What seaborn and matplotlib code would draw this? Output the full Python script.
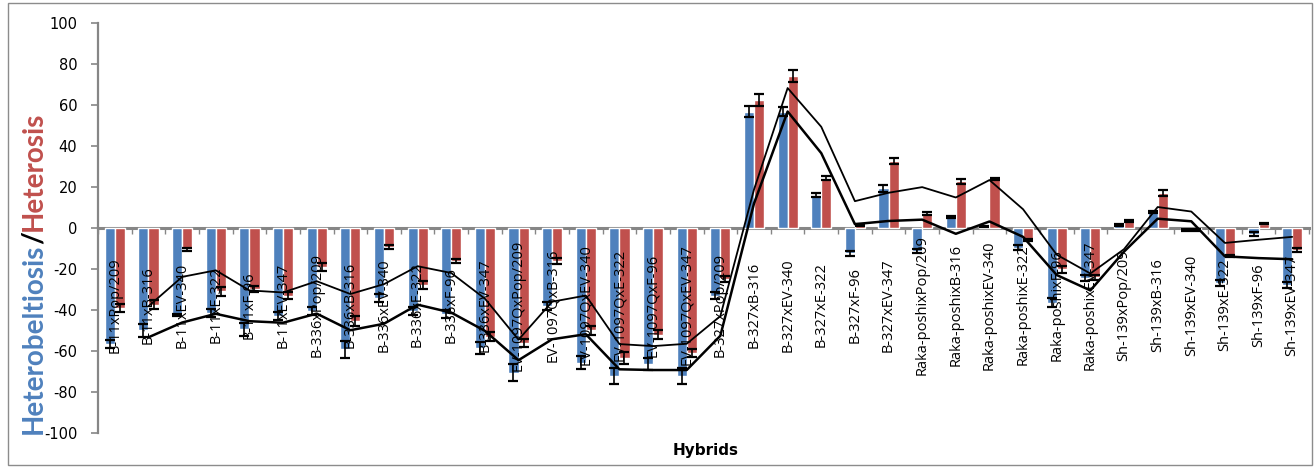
import numpy as np
import pandas as pd
import matplotlib
matplotlib.use("Agg")
import matplotlib.pyplot as plt
import seaborn as sns
from matplotlib.patches import Rectangle

# ---------------- data ----------------
categories = [
    "B-11xPop/209", "B-11xB-316", "B-11xEV-340", "B-11xE-322", "B-11xF-96", "B-11xEV-347",
    "B-336xPop/209", "B-336xB-316", "B-336xEV-340", "B-336xE-322", "B-336xF-96", "B-336xEV-347",
    "EV-1097QxPop/209", "EV-1097QxB-316", "EV-1097QxEV-340", "EV-1097QxE-322", "EV-1097QxF-96", "EV-1097QxEV-347",
    "B-327xPop/209", "B-327xB-316", "B-327xEV-340", "B-327xE-322", "B-327xF-96", "B-327xEV-347",
    "Raka-poshixPop/209", "Raka-poshixB-316", "Raka-poshixEV-340", "Raka-poshixE-322", "Raka-poshixF-96", "Raka-poshixEV-347",
    "Sh-139xPop/209", "Sh-139xB-316", "Sh-139xEV-340", "Sh-139xE-322", "Sh-139xF-96", "Sh-139xEV-347",
]
heterobeltiosis = [
    -56.7, -50.0, -42.3, -41.5, -49.5, -43.0,
    -40.6, -59.2, -34.3, -40.6, -42.0, -58.4,
    -70.6, -38.0, -65.7, -72.2, -66.4, -72.2,
    -33.0, 56.7, 56.7, 16.1, -12.5, 19.2,
    -11.2, 5.4, 0.8, -9.6, -36.4, -24.6,
    1.4, 7.5, -1.1, -26.7, -2.8, -27.8,
]
heterosis = [
    -39.0, -37.4, -10.4, -31.0, -30.0, -33.0,
    -19.0, -45.5, -9.4, -28.0, -16.0, -53.0,
    -56.0, -16.0, -50.0, -63.3, -52.0, -61.0,
    -25.0, 62.3, 74.0, 24.5, 1.5, 32.7,
    7.0, 22.6, 24.0, -5.9, -20.3, -24.2,
    3.4, 16.9, -1.0, -13.7, 2.1, -10.9,
]
heterobeltiosis_err = [
    2.0, 3.0, 0.5, 2.0, 3.0, 2.0,
    2.0, 4.0, 2.0, 2.0, 2.0, 3.0,
    4.0, 2.0, 3.0, 4.0, 3.0, 4.0,
    1.5, 2.5, 2.0, 1.0, 1.0, 1.5,
    1.0, 0.5, 0.3, 1.0, 2.0, 1.5,
    0.5, 0.5, 0.5, 1.5, 1.0, 1.5,
]
heterosis_err = [
    2.0, 2.0, 0.8, 2.0, 1.5, 1.5,
    2.0, 2.5, 0.8, 2.0, 1.0, 2.0,
    2.0, 1.5, 2.0, 3.0, 2.0, 2.0,
    1.5, 3.0, 3.0, 1.0, 0.5, 1.5,
    0.5, 1.0, 0.5, 0.5, 1.5, 1.0,
    0.5, 1.5, 0.3, 0.5, 0.3, 1.0,
]
series_names = ["Heterobeltiosis", "Heterosis"]
y_ticks = list(range(-100, 101, 20))
TREND_PERIOD = 2  # Excel moving-average trendline period

# ---------------- style ----------------
BLUE = "#4F81BD"
RED = "#C0504D"
GRAY = "#868686"
LABEL_Y = -37.6

sns.set_theme(style="white")
plt.rcParams['font.family'] = ['DejaVu Sans']

fig = plt.figure(figsize=(13.16, 4.67), dpi=100)
ax = fig.add_axes([0.0745, 0.0728, 0.9202, 0.8786])

n = len(categories)
df = pd.DataFrame({
    "Hybrid": categories * 2,
    "Series": [series_names[0]] * n + [series_names[1]] * n,
    "Value": heterobeltiosis + heterosis,
})
sns.barplot(data=df, x="Hybrid", y="Value", hue="Series", order=categories,
            hue_order=series_names, palette=[BLUE, RED], width=0.6,
            errorbar=None, saturation=1, legend=False, ax=ax, zorder=2)

for cont, err in zip(ax.containers, [heterobeltiosis_err, heterosis_err]):
    xs = [p.get_x() + p.get_width() / 2 for p in cont]
    ax.errorbar(xs, cont.datavalues, yerr=err, fmt='none', ecolor='black',
                elinewidth=1.2, capsize=3.6, capthick=1.6, zorder=4)

# moving-average trendlines
xpos = np.arange(n)
trend = pd.DataFrame({
    "x": np.concatenate([xpos, xpos]),
    "y": np.concatenate([
        pd.Series(heterobeltiosis).rolling(TREND_PERIOD).mean().values,
        pd.Series(heterosis).rolling(TREND_PERIOD).mean().values]),
    "s": [series_names[0]] * n + [series_names[1]] * n,
}).dropna()
for name, lw in zip(series_names, [1.8, 1.3]):
    sub = trend[trend["s"] == name]
    sns.lineplot(x=sub["x"].values, y=sub["y"].values, color="black", lw=lw,
                 ax=ax, zorder=5, estimator=None, sort=False)

# axes
ax.set_xlim(-0.5, n - 0.5)
ax.set_ylim(-100, 100)
ax.set_yticks(y_ticks)
ax.set_yticklabels([str(v) for v in y_ticks])
ax.set_xticks(np.arange(-0.5, n, 1))
ax.set_xticklabels([])
ax.set_xlabel("")
ax.set_ylabel("")
for s in ["top", "right"]:
    ax.spines[s].set_visible(False)
ax.spines["bottom"].set_position(("data", 0))
ax.spines["bottom"].set_color(GRAY)
ax.spines["bottom"].set_linewidth(2.2)
ax.spines["bottom"].set_zorder(1)
ax.spines["left"].set_color(GRAY)
ax.spines["left"].set_linewidth(1.6)
ax.tick_params(axis="x", bottom=True, length=4, width=1, color=GRAY, direction="out")
ax.tick_params(axis="y", left=True, length=5, width=1.2, color=GRAY, direction="out",
               labelsize=10.5, pad=10, labelcolor="black")

for i, lab in enumerate(categories):
    ax.text(i, LABEL_Y, lab, rotation=90, ha="center", va="center",
            fontsize=10.5, family="Open Sans", color="black", zorder=3)

# y-axis title in two colours
t1 = fig.text(34 / 1316, 1 - 434 / 467, "Heterobeltiosis", rotation=90, ha="center",
              va="bottom", color=BLUE, fontsize=20, fontweight="bold", family="Lato")
t2 = ax.annotate("/", xy=(0.5, 1), xycoords=t1, ha="center", va="bottom", rotation=90,
                 color="black", fontsize=20, fontweight="bold", family="Lato")
t3 = ax.annotate("Heterosis", xy=(0.5, 1), xycoords=t2, ha="center", va="bottom",
                 rotation=90, color=RED, fontsize=20, fontweight="bold", family="Lato")

fig.text(706 / 1316, 1 - 450 / 467, "Hybrids", ha="center", va="center",
         fontsize=11, fontweight="bold", color="black")

fig.add_artist(Rectangle((8 / 1316, 2 / 467), (1312 - 8) / 1316, (464 - 2) / 467,
                         transform=fig.transFigure, fill=False, edgecolor="#8c8c8c", lw=1))

fig.savefig("out.png", dpi=100)
